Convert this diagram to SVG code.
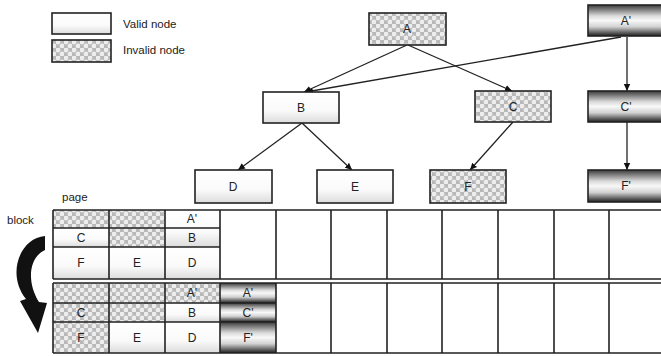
<svg xmlns="http://www.w3.org/2000/svg" width="661" height="356" viewBox="0 0 661 356">
<defs>
<pattern id="dots" width="8" height="8" patternUnits="userSpaceOnUse">
<rect width="8" height="8" fill="#b8b8b8"/>
<circle cx="2" cy="2" r="2.4" fill="#ededed"/>
<circle cx="6" cy="6" r="2.4" fill="#ededed"/>
</pattern>
<linearGradient id="valid" x1="0" y1="0" x2="0" y2="1">
<stop offset="0" stop-color="#ffffff"/>
<stop offset="0.6" stop-color="#fafafa"/>
<stop offset="1" stop-color="#dcdcdc"/>
</linearGradient>
<linearGradient id="prime" x1="0" y1="0" x2="0" y2="1">
<stop offset="0" stop-color="#3a3a3a"/>
<stop offset="0.35" stop-color="#dadada"/>
<stop offset="0.5" stop-color="#f8f8f8"/>
<stop offset="0.7" stop-color="#d2d2d2"/>
<stop offset="1" stop-color="#1e1e1e"/>
</linearGradient>
<marker id="arr" markerWidth="8" markerHeight="8" refX="7" refY="4" orient="auto" markerUnits="userSpaceOnUse">
<path d="M0,0.8 L7,4 L0,7.2 Z" fill="#111"/>
</marker>
</defs>
<style>
.n{stroke:#222;stroke-width:1.6}
.v{fill:url(#valid)}
.i{fill:url(#dots)}
.p{fill:url(#prime)}
.t{font-family:"Liberation Sans",Arial,sans-serif;font-size:12px;fill:#222;text-anchor:middle}
.l{font-family:"Liberation Sans",Arial,sans-serif;font-size:11.5px;fill:#222}
.e{stroke:#222;stroke-width:1.3;fill:none;marker-end:url(#arr)}
.g{stroke:#222;stroke-width:1.6;fill:none}
</style>
<rect width="661" height="356" fill="#ffffff"/>

<g id="legend">
<rect class="n v" x="52" y="13" width="59" height="21"/>
<rect class="n i" x="52" y="40" width="59" height="22"/>
<text class="l" x="123" y="28">Valid node</text>
<text class="l" x="123" y="54">Invalid node</text>
</g>

<g id="connectors">
<line class="e" x1="407" y1="45" x2="304" y2="92"/>
<line class="e" x1="408" y1="45" x2="512" y2="91"/>
<line class="e" x1="621" y1="37" x2="306" y2="92"/>
<line class="e" x1="627" y1="37" x2="627" y2="91"/>
<line class="e" x1="302" y1="123" x2="238" y2="170"/>
<line class="e" x1="302" y1="123" x2="352" y2="170"/>
<line class="e" x1="513" y1="122" x2="470" y2="170"/>
<line class="e" x1="627" y1="122" x2="627" y2="170"/>
</g>

<g id="node-A"><rect class="n i" x="369" y="13" width="77" height="32"/><text class="t" x="407" y="33">A</text></g>
<g id="node-A2"><rect class="n p" x="588" y="5" width="76" height="31"/><text class="t" x="626" y="25">A'</text></g>
<g id="node-B"><rect class="n v" x="263" y="92" width="76" height="31"/><text class="t" x="301" y="112">B</text></g>
<g id="node-C"><rect class="n i" x="475" y="91" width="76" height="31"/><text class="t" x="513" y="111">C</text></g>
<g id="node-C2"><rect class="n p" x="588" y="91" width="76" height="31"/><text class="t" x="626" y="111">C'</text></g>
<g id="node-D"><rect class="n v" x="195" y="170" width="77" height="33"/><text class="t" x="233" y="191">D</text></g>
<g id="node-E"><rect class="n v" x="317" y="170" width="76" height="33"/><text class="t" x="355" y="191">E</text></g>
<g id="node-F"><rect class="n i" x="430" y="170" width="76" height="33"/><text class="t" x="468" y="191">F</text></g>
<g id="node-F2"><rect class="n p" x="588" y="170" width="76" height="32"/><text class="t" x="626" y="190">F'</text></g>

<g id="labels">
<text class="l" x="62" y="201">page</text>
<text class="l" x="7" y="224">block</text>
<path d="M45,236 C20,238 6,274 26,299 L20,301 L38,333 L47,303 L39,302 C27,283 28,258 45,250 Z" fill="#111"/>
</g>

<g id="block-1">
<rect x="53" y="210" width="112" height="18" class="i"/>
<rect x="53" y="228" width="56" height="19" class="v"/>
<rect x="109" y="228" width="56" height="19" class="i"/>
<rect x="53" y="247" width="167" height="32" class="v"/>
<rect x="165" y="210" width="55" height="37" class="v"/>
<path class="g" d="M53,210 H665 M53,279 H665 M53,228 H220 M53,247 H220 M53,210 V279 M109,210 V279 M165,210 V279 M220,210 V279 M276,210 V279 M331,210 V279 M387,210 V279 M442,210 V279 M498,210 V279 M554,210 V279 M609,210 V279"/>
<text class="t" x="192" y="223">A'</text>
<text class="t" x="81" y="242">C</text>
<text class="t" x="192" y="242">B</text>
<text class="t" x="81" y="267">F</text>
<text class="t" x="137" y="267">E</text>
<text class="t" x="192" y="267">D</text>
</g>

<g id="block-2">
<rect x="53" y="283" width="167" height="20" class="i"/>
<rect x="53" y="303" width="112" height="19" class="i"/>
<rect x="53" y="322" width="56" height="31" class="i"/>
<rect x="165" y="303" width="55" height="19" class="v"/>
<rect x="109" y="322" width="111" height="31" class="v"/>
<rect x="220" y="283" width="56" height="20" class="p"/>
<rect x="220" y="303" width="56" height="19" class="p"/>
<rect x="220" y="322" width="56" height="31" class="p"/>
<path class="g" d="M53,283 H665 M53,353 H665 M53,303 H276 M53,322 H276 M53,283 V353 M109,283 V353 M165,283 V353 M220,283 V353 M276,283 V353 M331,283 V353 M387,283 V353 M442,283 V353 M498,283 V353 M554,283 V353 M609,283 V353"/>
<text class="t" x="192" y="297">A'</text>
<text class="t" x="248" y="297">A'</text>
<text class="t" x="81" y="317">C</text>
<text class="t" x="192" y="317">B</text>
<text class="t" x="248" y="317">C'</text>
<text class="t" x="81" y="342">F</text>
<text class="t" x="137" y="342">E</text>
<text class="t" x="192" y="342">D</text>
<text class="t" x="248" y="342">F'</text>
</g>
</svg>
